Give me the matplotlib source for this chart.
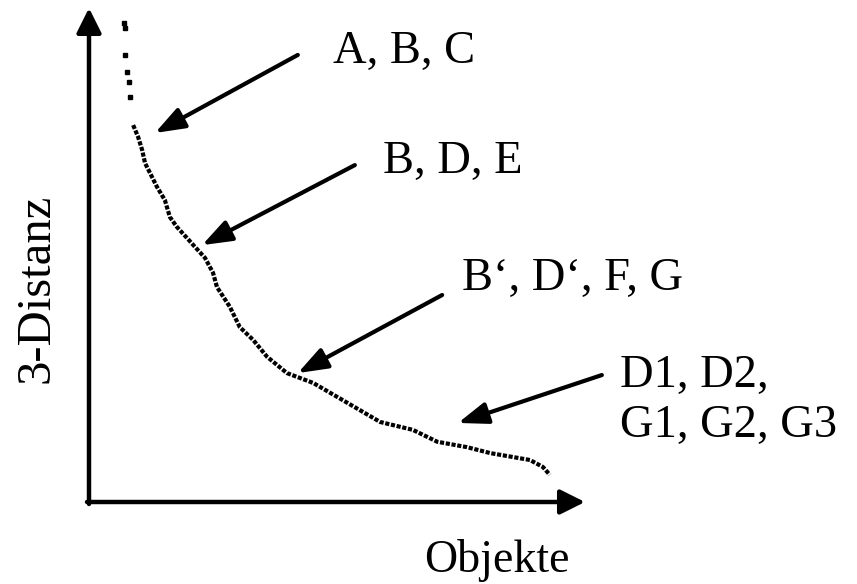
import matplotlib.pyplot as plt

plt.rcParams['font.family'] = ['Liberation Serif', 'DejaVu Serif']

# sparse points at the top of the curve (object rank, 3-distance)
top_x = [7.1, 7.3, 7.3, 7.7, 8.1, 8.3]
top_y = [97.0, 96.0, 90.5, 87.0, 85.0, 82.0]

# main part of the sorted 3-distance curve
obj_x = [8.9, 9.9, 10.7, 11.3, 12.3, 13.7, 15.3, 16.3, 17.7, 19.8, 21.4, 23.4,
         25.0, 25.8, 28.4, 30.4, 33.1, 35.9, 39.9, 45.2, 50.0, 54.6, 58.7,
         65.3, 70.2, 76.2, 80.9, 88.9, 91.5, 92.9]
dist_y = [76.3, 73.9, 71.3, 68.6, 66.6, 63.8, 61.1, 57.7, 55.7, 53.4, 51.6, 49.4,
          46.4, 43.5, 39.5, 35.4, 32.8, 29.4, 26.1, 24.1, 21.3, 18.6, 16.2,
          14.6, 12.2, 11.1, 9.9, 8.5, 7.1, 5.5]

# annotations: label lines, baseline anchor, arrow tail, arrow tip
labels = ['A, B, C', 'B, D, E', 'B\u2018, D\u2018, F, G', 'D1, D2,', 'G1, G2, G3']
label_pos = [(49.2, 88.9), (59.3, 66.6), (75.2, 42.9), (107.1, 23.3), (107.1, 13.2)]
arrow_tail = [(42.1, 90.5), (53.6, 68.2), (71.2, 41.9), (103.4, 25.7)]
arrow_tip = [(13.3, 74.7), (22.8, 52.0), (42.1, 26.1), (74.4, 16.0)]

fig = plt.figure(figsize=(8.57, 5.84), dpi=100)
ax = fig.add_axes([89 / 857, 82 / 584, 496 / 857, 494 / 584])
ax.set_xlim(0, 100)
ax.set_ylim(0, 100)
ax.axis('off')

# axes drawn as arrows
axis_arrow = dict(arrowstyle='-|>,head_length=0.5,head_width=0.25',
                  mutation_scale=30, lw=3.2, color='black', shrinkA=0, shrinkB=0)
ax.annotate('', xy=(100, 0), xytext=(-0.4, 0), arrowprops=axis_arrow,
            annotation_clip=False)
ax.annotate('', xy=(0, 100), xytext=(0, -0.4), arrowprops=axis_arrow,
            annotation_clip=False)

# the curve
ax.plot(top_x, top_y, ls='none', marker='s', ms=2.6, color='black')
ax.plot(obj_x, dist_y, ls=(0, (1, 0.4)), lw=3.0, color='black')

arrow_props = dict(arrowstyle='-|>,head_length=0.6,head_width=0.22',
                   mutation_scale=30, lw=3.0, color='black', shrinkA=0, shrinkB=0)
for tail, tip in zip(arrow_tail, arrow_tip):
    ax.annotate('', xy=tip, xytext=tail, arrowprops=arrow_props,
                annotation_clip=False)
for lab, pos in zip(labels, label_pos):
    ax.text(pos[0], pos[1], lab, fontsize=33.5, ha='left', va='baseline',
            clip_on=False)

ax.text(82.3, -14.2, 'Objekte', fontsize=33, ha='center', va='baseline',
        clip_on=False)
ax.text(-10.5, 43.3, '3-Distanz', fontsize=35, ha='center', va='center',
        rotation=90, clip_on=False)

fig.savefig('out.png', dpi=100)
